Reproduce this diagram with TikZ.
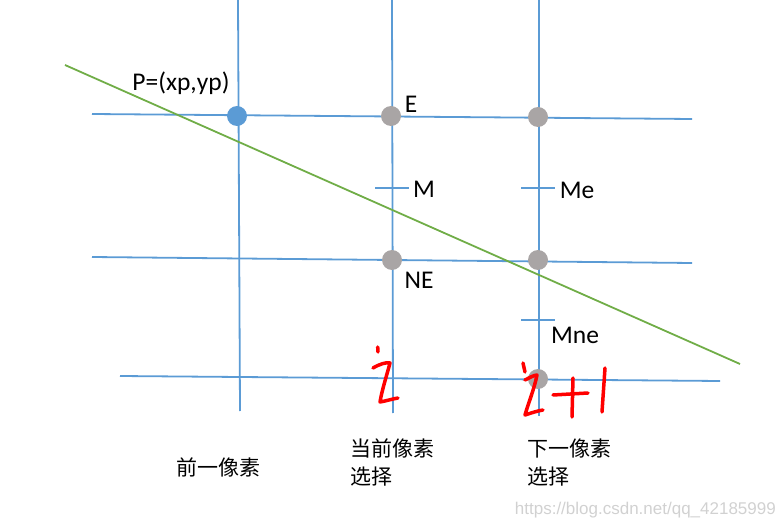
\documentclass[tikz,border=0pt]{standalone}
\usepackage{fontspec}
\setmainfont{Carlito}
\newfontfamily\cjk{Noto Sans CJK SC}
\newfontfamily\wm{Liberation Sans}
\definecolor{gridblue}{HTML}{5B9BD5}
\definecolor{linegreen}{HTML}{70AD47}
\definecolor{ptgray}{HTML}{A9A5A5}
\definecolor{inkred}{HTML}{FF0000}
\tikzset{
  gridline/.style={gridblue, line width=1.8},
  tickline/.style={gridblue, line width=1.8},
  graypt/.style={circle, fill=ptgray, minimum size=20, inner sep=0},
  bluept/.style={circle, fill=gridblue, minimum size=20, inner sep=0},
  lbl/.style={font=\fontsize{25.5}{27}\selectfont, inner sep=0},
  cjklbl/.style={font=\cjk\fontsize{21}{28}\selectfont, inner sep=0, align=left},
  ink/.style={inkred, line width=3.5, line cap=round, line join=round}
}
\begin{document}
\begin{tikzpicture}[x=1pt,y=-1pt]
\useasboundingbox (0,0) rectangle (782,529);
% vertical grid lines
\coordinate (v1t) at (238,0);   \coordinate (v1b) at (240,411);
\coordinate (v2t) at (392,0);   \coordinate (v2b) at (393,413);
\coordinate (v3t) at (539,0);   \coordinate (v3b) at (539,416);
\draw[gridline] (v1t) -- (v1b);
\draw[gridline] (v2t) -- (v2b);
\draw[gridline] (v3t) -- (v3b);
% horizontal grid lines
\coordinate (h1l) at (92,114);  \coordinate (h1r) at (692,119);
\coordinate (h2l) at (92,257);  \coordinate (h2r) at (692,263);
\coordinate (h3l) at (120,376); \coordinate (h3r) at (720,381);
\draw[gridline] (h1l) -- (h1r);
\draw[gridline] (h2l) -- (h2r);
\draw[gridline] (h3l) -- (h3r);
% green line
\coordinate (gl) at (65,65); \coordinate (gr) at (740,364);
\draw[linegreen, line width=1.8] (gl) -- (gr);
% ticks
\coordinate (m1) at (375,188); \coordinate (m2) at (409,188);
\coordinate (me1) at (521,188); \coordinate (me2) at (555,188);
\coordinate (mn1) at (521,320); \coordinate (mn2) at (555,320);
\draw[tickline] (m1) -- (m2);
\draw[tickline] (me1) -- (me2);
\draw[tickline] (mn1) -- (mn2);
% points
\node[bluept] (P) at (237,116) {};
\node[graypt] (E) at (391,116) {};
\node[graypt] (E2) at (538,117) {};
\node[graypt] (NE) at (392,260) {};
\node[graypt] (NE2) at (538,260) {};
\node[graypt] (B3) at (538,379) {};
% labels
\node[lbl] (lP) at (181,83) {P=(xp,yp)};
\node[lbl] (lE) at (411,104) {E};
\node[lbl] (lM) at (424,189) {M};
\node[lbl] (lNE) at (419,280) {NE};
\node[lbl] (lMe) at (577,190) {Me};
\node[lbl] (lMne) at (575,335) {Mne};
% red handwriting: i
\draw[ink] (377.7,347) -- (378,352);
\draw[ink] (373,368) .. controls (380,364) and (386,362) .. (390,363) .. controls (386,378) and (382,390) .. (380,402) .. controls (386,401) and (392,399) .. (398,398);
% red handwriting: i+1
\draw[ink] (523,363) -- (525,372);
\draw[ink] (525,380) .. controls (529,378) and (534,375) .. (537,375) .. controls (534,390) and (528,404) .. (525,415) .. controls (531,413) and (537,411) .. (543,410);
\draw[ink] (553,395) -- (588,393);
\draw[ink] (573,378) -- (572,417);
\draw[ink] (605,368) -- (602,412);
% chinese labels
\node[cjklbl, anchor=west] (c1) at (176,467) {前一像素};
\node[cjklbl, anchor=north west] (c2) at (350,439) {当前像素\\选择};
\node[cjklbl, anchor=north west] (c3) at (527,439) {下一像素\\选择};
% watermark
\node[font=\wm\fontsize{17}{20}\selectfont, text=black!18, anchor=east, inner sep=0] (wmk) at (776,510) {https://blog.csdn.net/qq\_42185999};
\end{tikzpicture}
\end{document}
